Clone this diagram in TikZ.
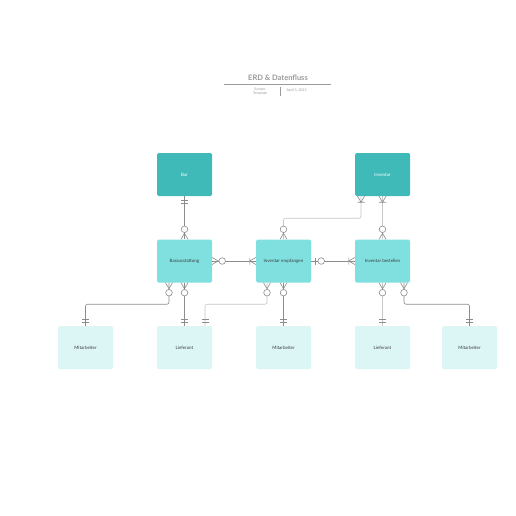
\documentclass[tikz,border=0pt]{standalone}
\usepackage{fontspec}
\setmainfont{Lato}
\usetikzlibrary{positioning}
\definecolor{deepteal}{HTML}{40B9B9}
\definecolor{midteal}{HTML}{80E0E0}
\definecolor{paleteal}{HTML}{DCF5F5}
\definecolor{linkgray}{HTML}{8C8C8C}
\definecolor{softgray}{HTML}{C6C6C6}
\definecolor{textgray}{HTML}{3C3C3C}
\definecolor{titlegray}{HTML}{9A9A9A}
\tikzset{
  ermark/.style={draw=linkgray,line width=.6pt},
  onlyone/.pic={\draw[ermark] (4,-3.5)--(4,3.5) (7,-3.5)--(7,3.5);},
  onemany/.pic={\draw[ermark] (0,-3.5)--(6,0)--(0,3.5) (6,-3.5)--(6,3.5);},
  zeromany/.pic={\draw[ermark] (0,-3.5)--(6,0)--(0,3.5); \draw[ermark,fill=white] (10,0) circle (3.3pt);},
  zeroone/.pic={\draw[ermark] (4,-3.5)--(4,3.5); \draw[ermark,fill=white] (10,0) circle (3.3pt);}
}
\begin{document}
\begin{tikzpicture}[x=1pt,y=1pt,font=\fontsize{4.5}{5}\selectfont,entity/.style={rounded corners=1.5pt,minimum width=55pt,minimum height=43pt,inner sep=0pt,text=textgray},link/.style={draw=linkgray,line width=.6pt,rounded corners=2pt},faint/.style={draw=softgray,line width=.6pt,rounded corners=2pt}]
\useasboundingbox[fill=white] (0,0) rectangle (516,-516);
% title block
\node[font=\bfseries\fontsize{7.5}{8}\selectfont,text=titlegray] (title) at (278,-78) {ERD \& Datenfluss};
\draw[titlegray,line width=.5pt] (224,-84.5) -- (331,-84.5);
\node[font=\fontsize{3.5}{4}\selectfont,text=titlegray,align=center] (sys) at (260,-91.5) {System\\Template};
\draw[titlegray,line width=.4pt] (280.5,-87) -- (280.5,-96);
\node[font=\fontsize{3.5}{4}\selectfont,text=titlegray,anchor=west] (date) at (283,-90.5) {April 3, 2025};
% entities
\node[entity,fill=deepteal,text=white] (bar) at (184.5,-174.5) {Bar};
\node[entity,fill=deepteal,text=white] (inv) at (382.5,-174.5) {Inventar};
\node[entity,fill=midteal] (baraus) at (184.5,-261) {Barausstattung};
\node[entity,fill=midteal] (invemp) at (283.5,-261) {Inventar empfangen};
\node[entity,fill=midteal] (invbest) at (382.5,-261) {Inventar bestellen};
\node[entity,fill=paleteal] (mit1) at (85.5,-347.5) {Mitarbeiter};
\node[entity,fill=paleteal] (lief1) at (184.5,-347.5) {Lieferant};
\node[entity,fill=paleteal] (mit2) at (283.5,-347.5) {Mitarbeiter};
\node[entity,fill=paleteal] (lief2) at (382.5,-347.5) {Lieferant};
\node[entity,fill=paleteal] (mit3) at (469.5,-347.5) {Mitarbeiter};
% relations
\draw[link] (bar.south) -- (baraus.north);
\draw[link] (baraus.east) -- (invemp.west);
\draw[link] (invemp.east) -- (invbest.west);
\draw[faint] ([xshift=-21.5pt]inv.south) -- ++(0,-22) -| (invemp.north);
\draw[faint] (inv.south) -- (invbest.north);
\draw[link] ([xshift=-15.5pt]baraus.south) -- ++(0,-21.5) -| (mit1.north);
\draw[link] (baraus.south) -- (lief1.north);
\draw[faint] ([xshift=-16.5pt]invemp.south) -- ++(0,-21.5) -| ([xshift=20.5pt]lief1.north);
\draw[link] (invemp.south) -- (mit2.north);
\draw[faint] (invbest.south) -- (lief2.north);
\draw[link] ([xshift=21.5pt]invbest.south) -- ++(0,-21.5) -| (mit3.north);
% cardinality marks
\pic[rotate=-90] at (bar.south) {onlyone};
\pic[rotate=90] at (baraus.north) {zeromany};
\pic at (baraus.east) {zeromany};
\pic[rotate=180] at (invemp.west) {onemany};
\pic at (invemp.east) {zeroone};
\pic[rotate=180] at (invbest.west) {onemany};
\pic[rotate=-90] at ([xshift=-21.5pt]inv.south) {onemany};
\pic[rotate=-90] at (inv.south) {onemany};
\pic[rotate=90] at (invemp.north) {zeromany};
\pic[rotate=90] at (invbest.north) {zeromany};
\foreach \s in {-15.5,0}{\pic[rotate=-90] at ([xshift=\s pt]baraus.south) {zeromany};}
\foreach \s in {-16.5,0}{\pic[rotate=-90] at ([xshift=\s pt]invemp.south) {zeromany};}
\foreach \s in {0,21.5}{\pic[rotate=-90] at ([xshift=\s pt]invbest.south) {zeromany};}
\foreach \n in {mit1,lief1,mit2,lief2,mit3}{\pic[rotate=90] at (\n.north) {onlyone};}
\pic[rotate=90] at ([xshift=20.5pt]lief1.north) {onlyone};
\end{tikzpicture}
\end{document}
